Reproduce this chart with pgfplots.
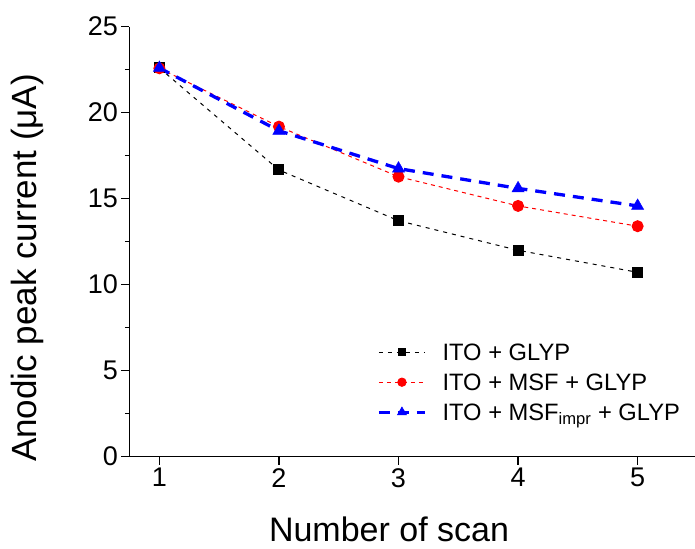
\documentclass[border=0pt]{standalone}
\usepackage{fontspec}
\setmainfont{Liberation Sans}
\usepackage{pgfplots}
\pgfplotsset{compat=1.18}
\begin{document}
\begin{tikzpicture}
\begin{axis}[
  name=ax,
  scale only axis,
  width=567.9bp, height=430bp,
  xmin=0.75, xmax=5.5, ymin=0, ymax=25,
  axis lines*=left,
  axis line style={line width=1.2bp},
  xtick={1,2,3,4,5},
  ytick={0,5,10,15,20,25},
  minor y tick num=1,
  tick align=outside,
  major tick length=8bp, minor tick length=4.5bp,
  every tick/.style={line width=1.2bp, black},
  /pgf/number format/assume math mode=true,
  tick label style={font=\fontsize{27bp}{32bp}\selectfont},
  every axis x label/.style={at={([yshift=-84.5bp]axis description cs:0.457,0)}, anchor=base, inner sep=0pt, font=\fontsize{34bp}{40bp}\selectfont},
  every axis y label/.style={at={([xshift=-92.5bp]axis description cs:0,0.439)}, anchor=base, rotate=90, inner sep=0pt, font=\fontsize{35bp}{42bp}\selectfont},
  xlabel={Number of scan},
  ylabel={Anodic peak current (μA)},
  legend style={draw=none, fill=none, at={(axis description cs:0.436,0.2586)}, anchor=north west,
    inner sep=0pt, row sep=0pt, column sep=16bp,
    nodes={inner sep=0pt, text height=15bp, text depth=15bp, anchor=base west},
    font=\fontsize{23.7bp}{28bp}\selectfont},
  legend cell align=left,
  legend image code/.code={\draw[mark repeat=2,mark phase=2,every mark/.append style={scale=0.75},#1] plot coordinates {(0bp,8.5bp) (23bp,8.5bp) (46bp,8.5bp)};},
]
\addplot[black, line width=1bp, dash pattern=on 4bp off 5bp, mark=square*, mark size=5bp, mark options={solid}]
  coordinates {(1,22.6) (2,16.67) (3,13.72) (4,12.0) (5,10.72)};
\addlegendentry{ITO + GLYP}
\addplot[red, line width=1bp, dash pattern=on 4bp off 4bp, mark=*, mark size=5.5bp, mark options={solid}]
  coordinates {(1,22.58) (2,19.19) (3,16.28) (4,14.58) (5,13.4)};
\addlegendentry{ITO + MSF + GLYP}
\addplot[blue, line width=3.3bp, dash pattern=on 11bp off 8bp, mark=triangle*, mark size=7bp, mark options={solid, line width=0.5bp}]
  coordinates {(1,22.6) (2,18.95) (3,16.75) (4,15.6) (5,14.58)};
\addlegendentry{ITO + MSF\textsubscript{impr} + GLYP}
\end{axis}
\pgfresetboundingbox
\path[use as bounding box] ([shift={(-129.5bp,-92.3bp)}]ax.south west) rectangle ([shift={(565.5bp,456.7bp)}]ax.south west);
\end{tikzpicture}
\end{document}
